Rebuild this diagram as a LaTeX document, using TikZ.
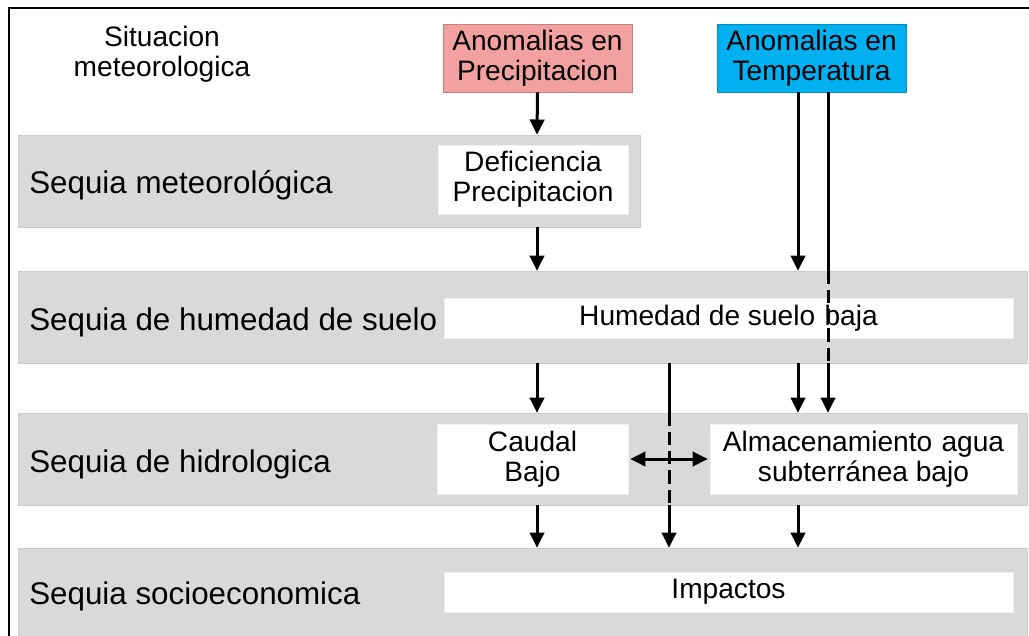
\documentclass[tikz,border=0pt]{standalone}
\usepackage{fontspec}
\setmainfont{Liberation Sans}
\usetikzlibrary{arrows.meta,calc}
\definecolor{bandgray}{RGB}{217,217,217}
\definecolor{anompink}{RGB}{243,160,160}
\definecolor{anomblue}{RGB}{0,176,240}
\tikzset{
  band/.style={draw=black!20,fill=bandgray,minimum height=2.3cm,inner sep=0},
  bandlabel/.style={anchor=west,inner sep=0,font=\fontsize{22.3}{26}\selectfont},
  box/.style={fill=white,draw=black!6,align=center,inner sep=0,font=\fontsize{20}{21.5}\selectfont},
  flow/.style={line width=0.075cm,-{Triangle[length=0.38cm,width=0.36cm]}},
  twoway/.style={line width=0.075cm,{Triangle[length=0.38cm,width=0.36cm]}-{Triangle[length=0.38cm,width=0.36cm]}},
  plainline/.style={line width=0.075cm},
  brokenline/.style={line width=0.075cm,dash pattern=on 0.33cm off 0.15cm}
}
\begin{document}
\begin{tikzpicture}
\useasboundingbox (0,0) rectangle (25.725,-15.875);
\clip (0,0) rectangle (25.725,-15.875);
% frame
\draw[line width=0.06cm] (25.8,-0.2) -- (0.225,-0.2) -- (0.225,-16);
% top row
\node[font=\fontsize{20}{21.5}\selectfont,align=center] (sitmet) at (4.05,-1.35) {Situacion\\meteorologica};
\node[box,fill=anompink,draw=anompink!80!black,minimum width=4.725cm,minimum height=1.7cm] (anomprec) at (13.4375,-1.45) {Anomalias en\\Precipitacion};
\node[box,fill=anomblue,draw=anomblue!80!black,minimum width=4.725cm,minimum height=1.7cm] (anomtemp) at (20.2875,-1.45) {Anomalias en\\Temperatura};
% bands
\node[band,minimum width=15.55cm] (meteo) at (8.225,-4.525) {};
\node[band,minimum width=25.225cm] (humedad) at (13.0625,-7.925) {};
\node[band,minimum width=25.225cm] (hidro) at (13.0625,-11.475) {};
\node[band,minimum width=25.225cm] (socio) at (13.0625,-14.85) {};
\node[bandlabel] (lmeteo) at (0.725,-4.625) {Sequia meteorológica};
\node[bandlabel] (lhumedad) at (0.725,-8.05) {Sequia de humedad de suelo};
\node[bandlabel] (lhidro) at (0.725,-11.6) {Sequia de hidrologica};
\node[bandlabel] (lsocio) at (0.725,-14.9) {Sequia socioeconomica};
% boxes
\node[box,minimum width=4.75cm,minimum height=1.725cm] (defic) at (13.325,-4.4875) {Deficiencia\\Precipitacion};
\node[box,minimum width=14.225cm,minimum height=1.0cm] (humbaja) at (18.2125,-7.95) {Humedad de suelo\,\,baja};
\node[box,minimum width=4.775cm,minimum height=1.75cm] (caudal) at (13.3125,-11.475) {Caudal\\Bajo};
\node[box,minimum width=7.675cm,minimum height=1.75cm] (almacen) at (21.5875,-11.475) {Almacenamiento\,\,agua\\subterránea bajo};
\node[box,minimum width=14.225cm,minimum height=1.0cm] (impactos) at (18.2125,-14.8) {Impactos};
% x positions of the vertical links
\coordinate (xp) at (13.425,0);
\coordinate (xt1) at (19.95,0);
\coordinate (xt2) at (20.7,0);
\coordinate (xm) at ($(caudal.east)!0.5!(almacen.west)$);
% links
\draw[flow] (anomprec.south) -- (xp |- meteo.north);
\draw[flow] (xp |- meteo.south) -- (xp |- humedad.north);
\draw[flow] (xt1 |- anomtemp.south) -- (xt1 |- humedad.north);
\draw[plainline] (xt2 |- anomtemp.south) -- (xt2 |- humedad.north);
\draw[brokenline] (xt2 |- humedad.north) -- (xt2 |- humedad.south);
\draw[flow] (xt2 |- humedad.south) -- (xt2 |- hidro.north);
\draw[flow] (xp |- humedad.south) -- (xp |- hidro.north);
\draw[flow] (xt1 |- humedad.south) -- (xt1 |- hidro.north);
\draw[plainline] (xm |- humedad.south) -- (xm |- hidro.north);
\draw[brokenline] (xm |- hidro.north) -- (xm |- hidro.south);
\draw[flow] (xm |- hidro.south) -- (xm |- socio.north);
\draw[flow] (xp |- hidro.south) -- (xp |- socio.north);
\draw[flow] (xt1 |- hidro.south) -- (xt1 |- socio.north);
\draw[twoway] ([xshift=0.05cm]caudal.east) -- ([xshift=-0.05cm]almacen.west);
\end{tikzpicture}
\end{document}
